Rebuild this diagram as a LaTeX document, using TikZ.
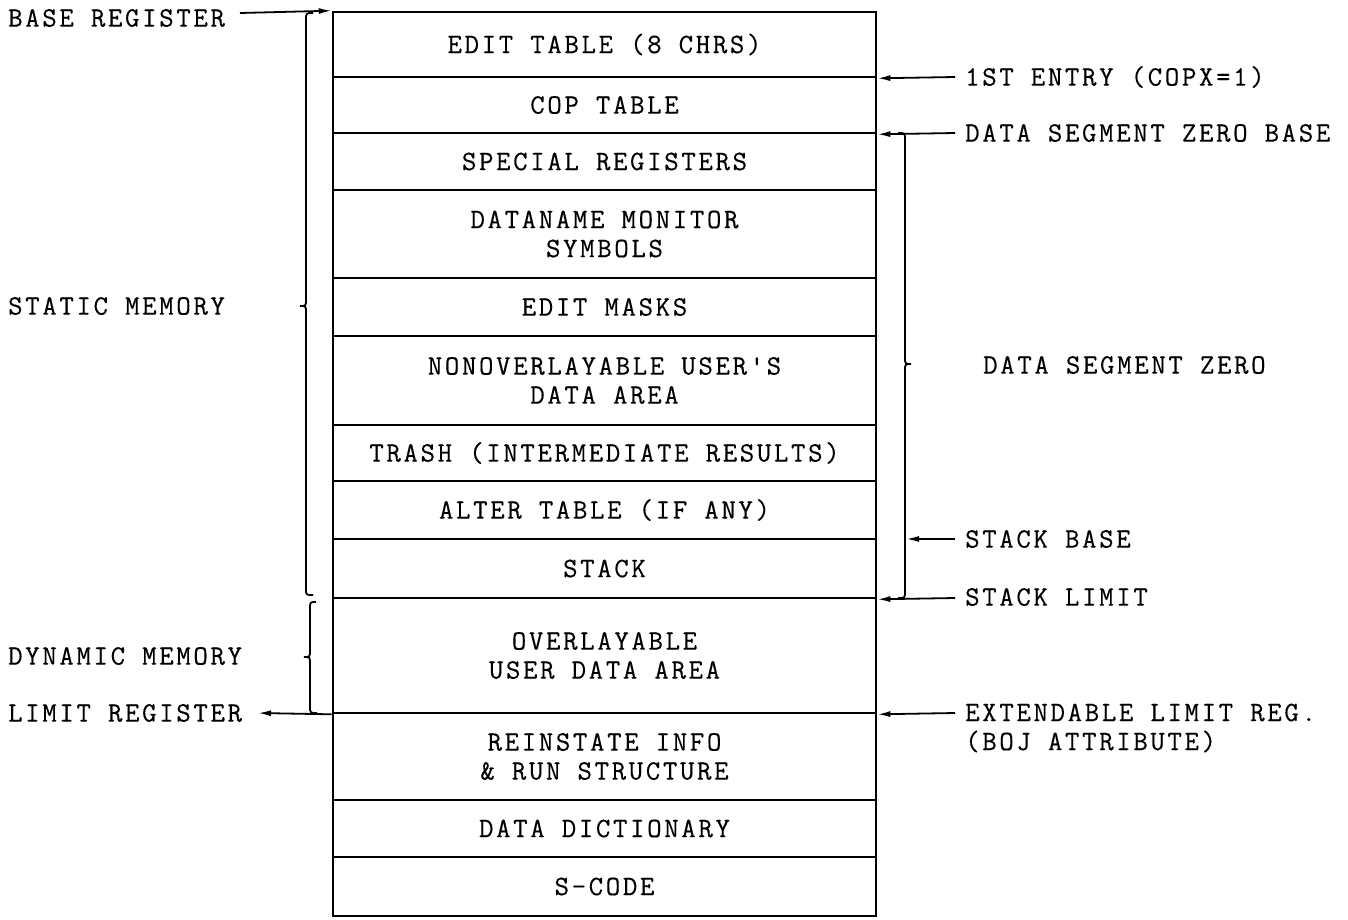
\documentclass[tikz,border=0pt]{standalone}
\usepackage{fontspec}
\setmonofont{Latin Modern Mono}[LetterSpace=9.5,FakeBold=0.4]
\usetikzlibrary{arrows.meta}
\begin{document}
\begin{tikzpicture}[x=1pt,y=-1pt,
  every node/.style={font=\ttfamily\fontsize{28}{29}\selectfont},
  row/.style={draw, line width=2.6pt, minimum width=543pt, inner sep=0pt, align=center},
  lbl/.style={anchor=west, inner sep=0pt, align=left},
  arr/.style={line width=1.8pt, -{Latex[length=13pt,width=6pt]}},
  brc/.style={line width=1.8pt}]
\useasboundingbox (0,0) rectangle (1348,919);
% rows
\node[row, minimum height=65pt] (r1) at (604.5,44.5) {EDIT TABLE (8 CHRS)};
\node[row, minimum height=56pt] (r2) at (604.5,105) {COP TABLE};
\node[row, minimum height=57pt] (r3) at (604.5,161.5) {SPECIAL REGISTERS};
\node[row, minimum height=88pt] (r4) at (604.5,234) {DATANAME MONITOR\\SYMBOLS};
\node[row, minimum height=58pt] (r5) at (604.5,307) {EDIT MASKS};
\node[row, minimum height=89pt] (r6) at (604.5,380.5) {NONOVERLAYABLE USER'S\\DATA AREA};
\node[row, minimum height=56pt] (r7) at (604.5,453) {TRASH (INTERMEDIATE RESULTS)};
\node[row, minimum height=58pt] (r8) at (604.5,510) {ALTER TABLE (IF ANY)};
\node[row, minimum height=59pt] (r9) at (604.5,568.5) {STACK};
\node[row, minimum height=115pt] (r10) at (604.5,655.5) {OVERLAYABLE\\USER DATA AREA};
\node[row, minimum height=87pt] (r11) at (604.5,756.5) {REINSTATE INFO\\\& RUN STRUCTURE};
\node[row, minimum height=57pt] (r12) at (604.5,828.5) {DATA DICTIONARY};
\node[row, minimum height=59pt] (r13) at (604.5,886.5) {S-CODE};
% left labels
\node[lbl] (base) at (8,18) {BASE REGISTER};
\node[lbl] (static) at (8,306) {STATIC MEMORY};
\node[lbl] (dyn) at (8,656) {DYNAMIC MEMORY};
\node[lbl] (limit) at (8,713) {LIMIT REGISTER};
% right labels
\node[lbl] (first) at (965,77) {1ST ENTRY (COPX=1)};
\node[lbl] (dszb) at (965,133) {DATA SEGMENT ZERO BASE};
\node[lbl] (dsz) at (983,365) {DATA SEGMENT ZERO};
\node[lbl] (sbase) at (965,539) {STACK BASE};
\node[lbl] (slimit) at (965,597) {STACK LIMIT};
\node[lbl] (ext) at (965,728) {EXTENDABLE LIMIT REG.\\(BOJ ATTRIBUTE)};
% coordinates for arrow start points
\coordinate (bs) at (240,13);
\coordinate (fs) at (955,77);
\coordinate (ds) at (955,133);
\coordinate (sbs) at (955,539);
\coordinate (sbt) at (906,539);
\coordinate (sls) at (955,598);
\coordinate (es) at (955,713);
\coordinate (lt) at (258,713);
% arrows
\draw[arr] (bs) -- (r1.north west);
\draw[arr] (fs) -- (r1.south east);
\draw[arr] (ds) -- (r2.south east);
\draw[arr] (sbs) -- (sbt);
\draw[arr] (sls) -- (r9.south east);
\draw[arr] (es) -- (r10.south east);
\draw[arr] (r10.south west) -- (lt);
% static memory brace (left)
\draw[brc] (313,13) .. controls (306,13) .. (306,20) -- (306,299)
  .. controls (306,306) .. (300,306) .. controls (306,306) .. (306,313)
  -- (306,589) .. controls (306,595) .. (313,595);
% dynamic memory brace (left)
\draw[brc] (316,602) .. controls (310,602) .. (310,609) -- (310,650)
  .. controls (310,657) .. (304,657) .. controls (310,657) .. (310,664)
  -- (310,706) .. controls (310,713) .. (317,713);
% data segment zero brace (right)
\draw[brc] (898,133) .. controls (905,133) .. (905,140) -- (905,357)
  .. controls (905,364) .. (911,364) .. controls (905,364) .. (905,371)
  -- (905,591) .. controls (905,598) .. (898,598);
\end{tikzpicture}
\end{document}
